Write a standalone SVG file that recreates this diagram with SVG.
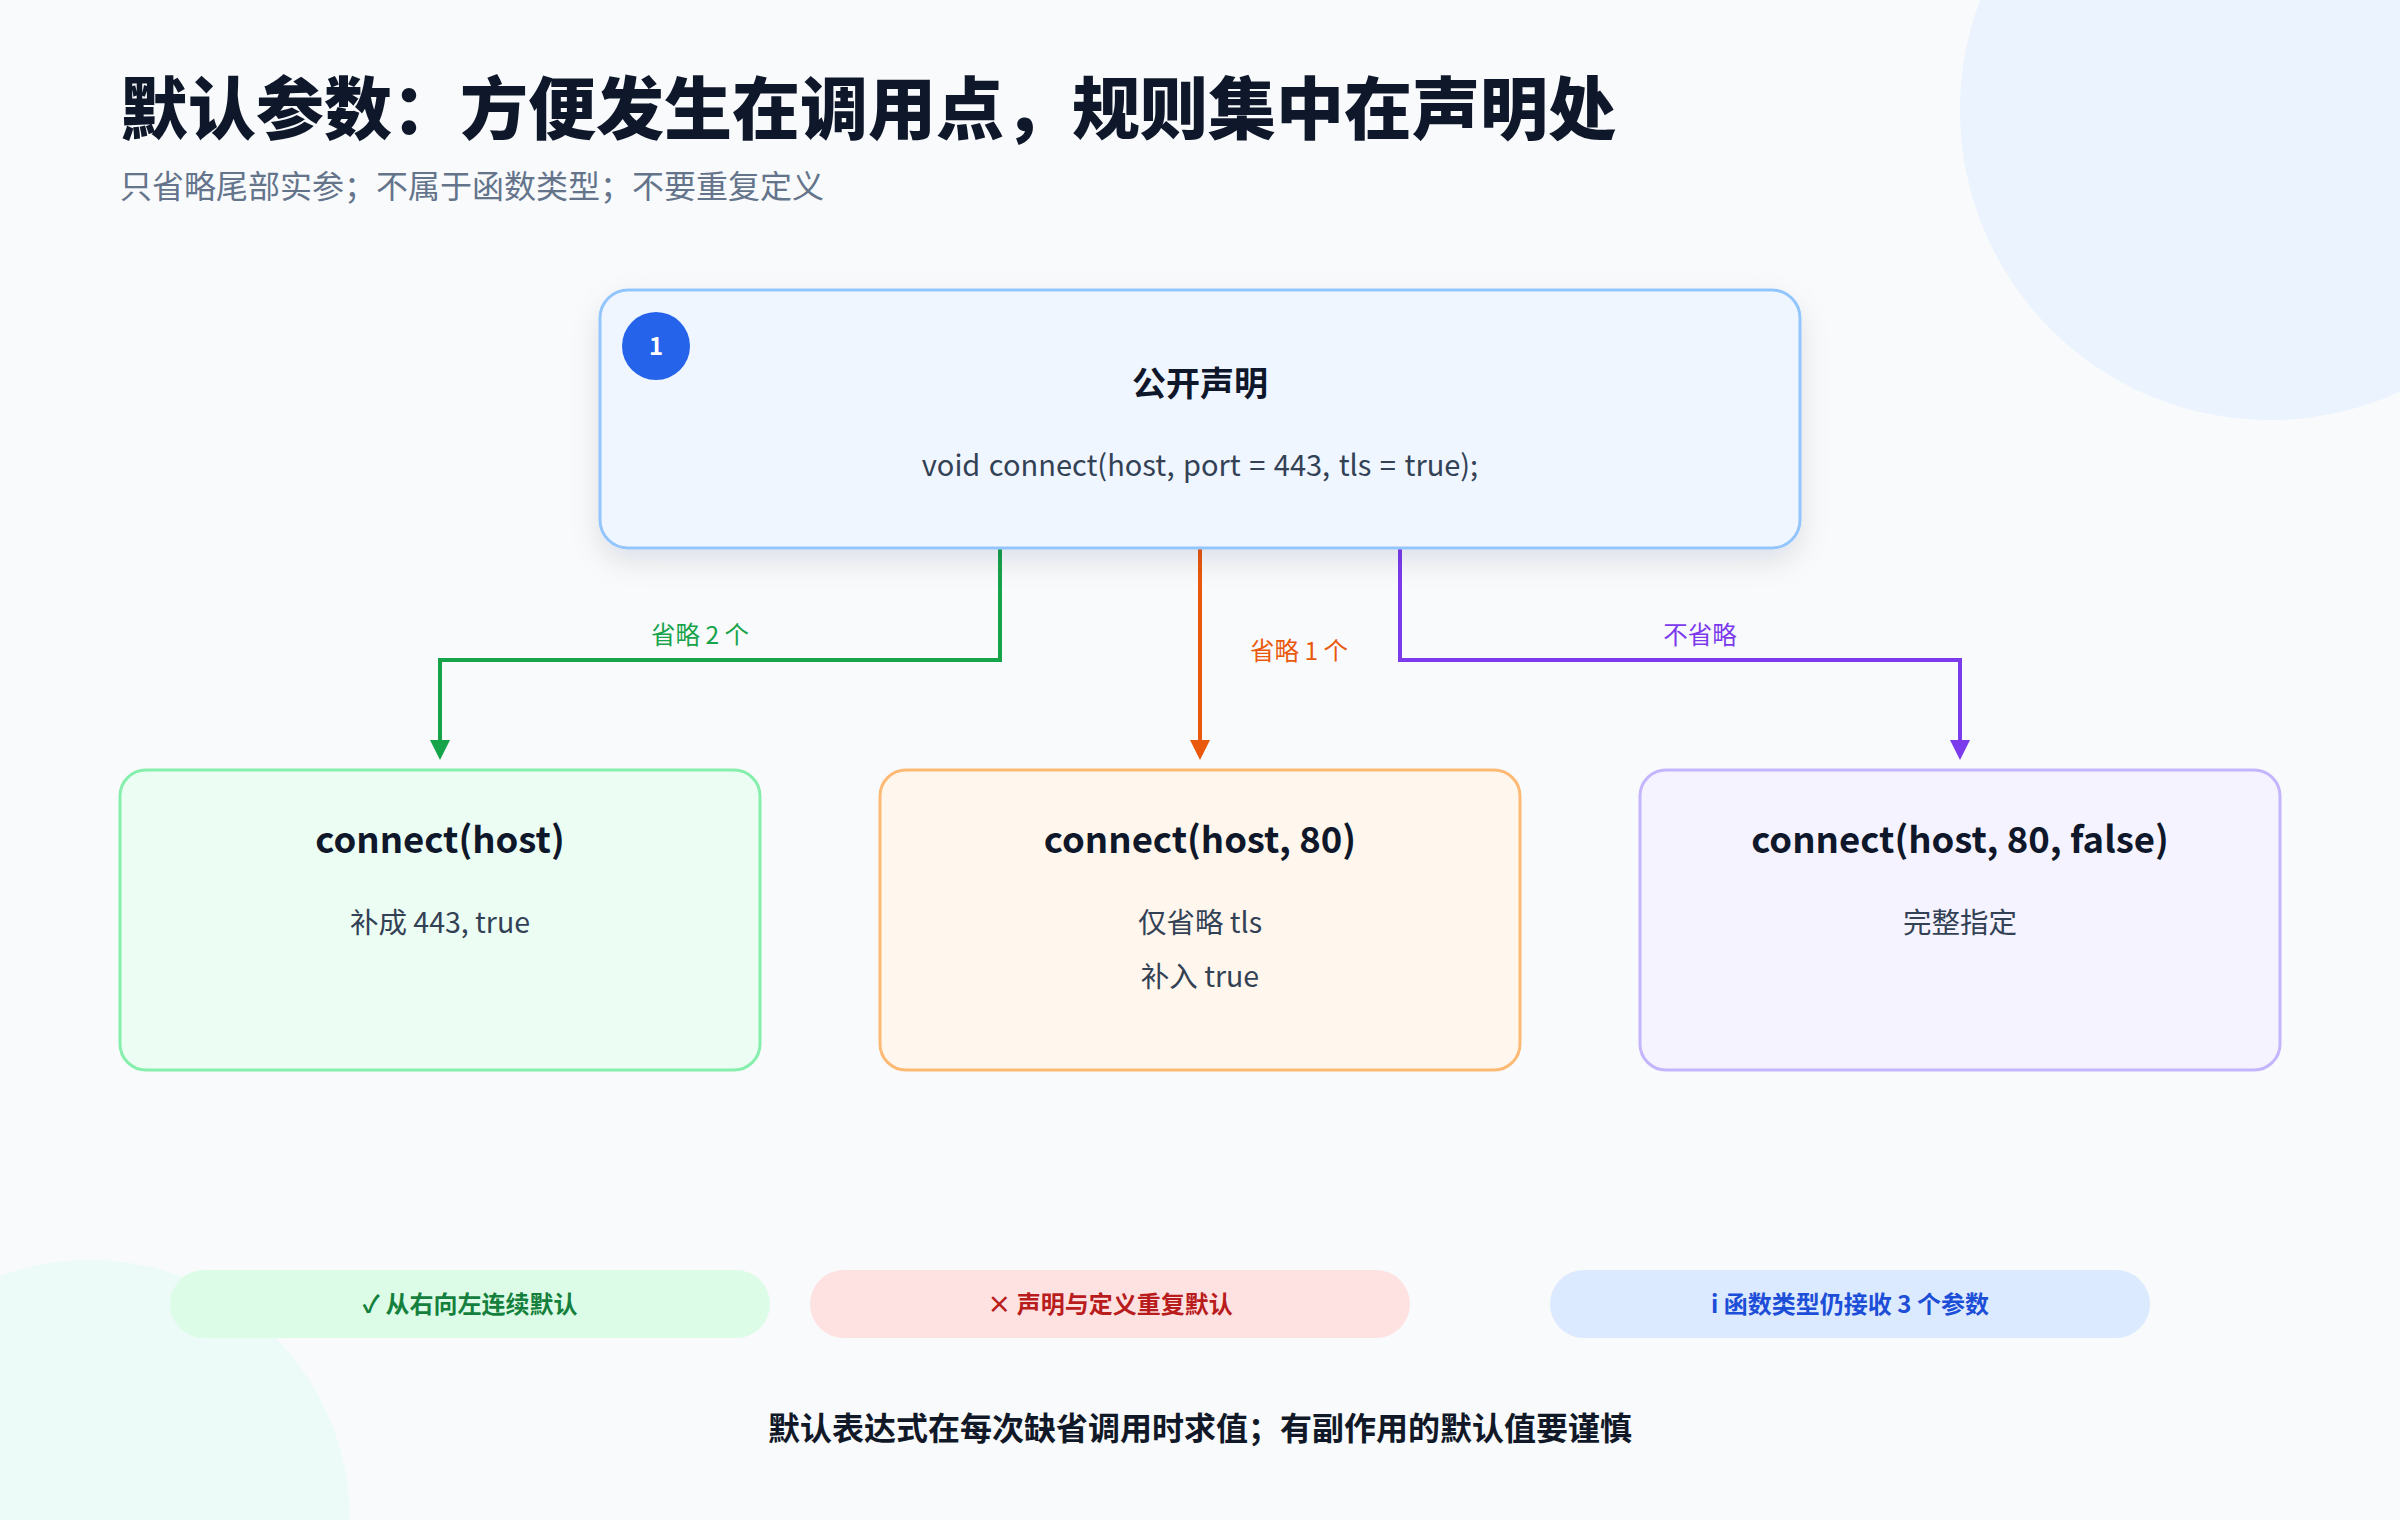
<svg xmlns="http://www.w3.org/2000/svg" width="2400" height="1520" viewBox="0 0 2400 1520">
<style>
text{font-family:"Noto Sans CJK SC","Noto Sans",sans-serif}
.title{font-size:68px;font-weight:800;fill:#0f172a}
.sub{font-size:32px;fill:#64748b}
.nt{font-size:36.5px;font-weight:700;fill:#0f172a;text-anchor:middle}
.nd{font-size:28.5px;fill:#334155;text-anchor:middle}
.lbl{font-size:24.5px}
.pill{font-size:24px;font-weight:700;text-anchor:middle}
.foot{font-size:32px;font-weight:700;fill:#111827;text-anchor:middle}
.conn{fill:none;stroke-width:4}
</style>
<defs>
<filter id="sh" x="-10%" y="-20%" width="120%" height="160%">
<feDropShadow dx="0" dy="12" stdDeviation="14" flood-color="#0f172a" flood-opacity="0.10"/>
</filter>
</defs>
<rect width="2400" height="1520" fill="#f8fafc"/>
<circle cx="2270" cy="110" r="310" fill="#ebf3fe"/>
<circle cx="90" cy="1520" r="260" fill="#ecfbf7"/>
<text class="title" x="120" y="134">默认参数：方便发生在调用点，规则集中在声明处</text>
<text class="sub" x="120" y="198">只省略尾部实参；不属于函数类型；不要重复定义</text>
<g id="connectors">
<path class="conn" stroke="#16a34a" d="M1000,549 V660 H440 V742"/>
<path d="M430,740 L450,740 L440,760 Z" fill="#16a34a"/>
<path class="conn" stroke="#ea580c" d="M1200,549 V742"/>
<path d="M1190,740 L1210,740 L1200,760 Z" fill="#ea580c"/>
<path class="conn" stroke="#7c3aed" d="M1400,549 V660 H1960 V742"/>
<path d="M1950,740 L1970,740 L1960,760 Z" fill="#7c3aed"/>
<text class="lbl" x="700" y="644" text-anchor="middle" fill="#16a34a">省略 2 个</text>
<text class="lbl" x="1250" y="660" fill="#ea580c">省略 1 个</text>
<text class="lbl" x="1700" y="644" text-anchor="middle" fill="#7c3aed">不省略</text>
</g>
<g id="node-decl">
<rect x="600" y="290" width="1200" height="258" rx="28" fill="#eff6ff" stroke="#93c5fd" stroke-width="3" filter="url(#sh)"/>
<circle cx="656" cy="346" r="34" fill="#2563eb"/>
<text x="656" y="355" text-anchor="middle" font-size="24" font-weight="700" fill="#ffffff">1</text>
<text class="nt" x="1200" y="396" style="font-size:34px">公开声明</text>
<text class="nd" x="1200" y="476" style="font-size:29px;word-spacing:2px">void connect(host, port = 443, tls = true);</text>
</g>
<g id="node-host">
<rect x="120" y="770" width="640" height="300" rx="26" fill="#ecfdf3" stroke="#86efac" stroke-width="3"/>
<text class="nt" x="440" y="853">connect(host)</text>
<text class="nd" x="440" y="933">补成 443, true</text>
</g>
<g id="node-host80">
<rect x="880" y="770" width="640" height="300" rx="26" fill="#fff7ed" stroke="#fdba74" stroke-width="3"/>
<text class="nt" x="1200" y="853">connect(host, 80)</text>
<text class="nd" x="1200" y="933">仅省略 tls</text>
<text class="nd" x="1200" y="987">补入 true</text>
</g>
<g id="node-full">
<rect x="1640" y="770" width="640" height="300" rx="26" fill="#f5f3ff" stroke="#c4b5fd" stroke-width="3"/>
<text class="nt" x="1960" y="853">connect(host, 80, false)</text>
<text class="nd" x="1960" y="933">完整指定</text>
</g>
<g id="pill-ok">
<rect x="170" y="1270" width="600" height="68" rx="34" fill="#dcfce7"/>
<text class="pill" x="470" y="1313" fill="#15803d">✓ 从右向左连续默认</text>
</g>
<g id="pill-bad">
<rect x="810" y="1270" width="600" height="68" rx="34" fill="#fee2e2"/>
<text class="pill" x="1110" y="1313" fill="#b91c1c">× 声明与定义重复默认</text>
</g>
<g id="pill-info">
<rect x="1550" y="1270" width="600" height="68" rx="34" fill="#dbeafe"/>
<text class="pill" x="1850" y="1313" fill="#1d4ed8">i 函数类型仍接收 3 个参数</text>
</g>
<text class="foot" x="1200" y="1440">默认表达式在每次缺省调用时求值；有副作用的默认值要谨慎</text>
</svg>
